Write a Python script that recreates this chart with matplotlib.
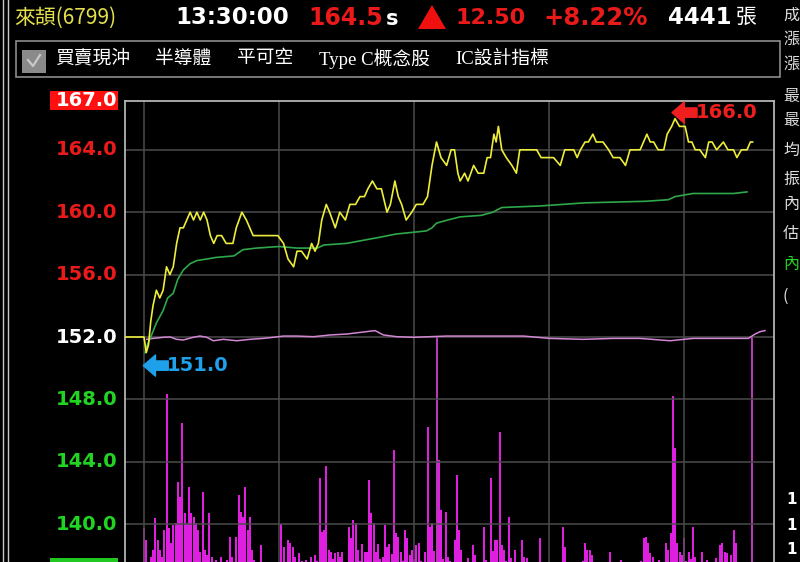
import matplotlib
matplotlib.use("Agg")
import matplotlib.pyplot as plt
import matplotlib.transforms as mtransforms
from matplotlib.patches import Rectangle, Polygon
from matplotlib.lines import Line2D
import numpy as np

# ---------------- data ----------------
stock_name = "來頡(6799)"
clock = "13:30:00"
last_price = "164.5"
change = "12.50"
change_pct = "+8.22%"
total_vol = "4441"
ref_price = 152.0
limit_up = 167.0
limit_down = 137.0
tabs = ["買賣現沖", "半導體", "平可空", "Type C概念股", "IC設計指標"]
side_chars = ["成", "漲", "漲", "最", "最", "均", "振", "內", "估", "內", "("]
y_ticks = [167.0, 164.0, 160.0, 156.0, 152.0, 148.0, 144.0, 140.0, 137.0]
grid_prices = [164.0, 160.0, 156.0, 152.0, 148.0, 144.0, 140.0]
grid_minutes = [0, 60, 120, 180, 240]

# minutes after 09:00 ; -9 = previous close reference
price_t = [-9, 0, 1, 2, 3, 4, 5.5, 7, 8.5, 10, 11.5, 13, 14.5, 16, 17.5, 19, 20.5, 22, 23.5,
           25, 26.5, 28, 29.5, 31, 32.5, 34.5, 36.5, 39.5, 41, 43.5, 45.5, 48.5, 53, 59.5,
           62, 64, 66.5, 68, 70, 72.5, 74.5, 76, 77.5, 79, 81, 82.5, 85, 87, 89.5, 91.5,
           94, 96, 98, 99.5, 101.5, 103.5, 105.5, 108, 109.5, 111.5, 113, 114.5, 116.5,
           119, 121, 124, 126, 128, 130, 132, 134.5, 136.5, 138, 139.5, 140.5, 142.5, 144,
           146.5, 148.5, 151, 152.5, 154, 155.5, 156.5, 157.5, 159, 161, 163.5, 165.5, 167,
           168.5, 171.5, 174.5, 176.5, 179, 182, 185, 187, 189.5, 191, 192.5, 194, 196,
           197.5, 199.5, 201, 204, 206.5, 208.5, 211.5, 214, 216, 218, 220.5, 222, 223.5,
           225, 226.5, 228.5, 231, 232.5, 234.5, 236, 238, 240.5, 242, 243.5, 245, 247,
           249.5, 251, 252.5, 254.5, 257.5, 259.5, 262, 263.5, 265.5, 268, 269.5, 270.5]
price_v = [152.0, 152.0, 151.0, 151.5, 153.0, 154.0, 155.0, 154.5, 155.0, 156.5, 156.0, 156.5,
           158.0, 159.0, 159.0, 159.5, 160.0, 159.5, 160.0, 159.5, 160.0, 159.5, 158.5, 158.0,
           158.5, 158.5, 158.0, 158.0, 159.0, 160.0, 159.5, 158.5, 158.5, 158.5, 158.0, 157.0,
           156.5, 157.5, 157.5, 157.0, 158.0, 157.5, 158.0, 159.5, 160.5, 160.0, 159.0, 160.0,
           159.5, 160.5, 160.5, 161.0, 161.0, 161.5, 162.0, 161.5, 161.5, 160.0, 160.5, 162.0,
           161.0, 160.5, 159.5, 160.0, 160.5, 160.5, 161.0, 163.0, 164.5, 163.5, 163.0, 164.0,
           164.0, 162.5, 162.0, 162.5, 162.0, 163.0, 162.5, 162.5, 163.5, 163.5, 165.0, 164.5,
           165.5, 164.0, 163.5, 163.0, 162.5, 164.0, 164.0, 164.0, 164.0, 163.5, 163.5, 163.5,
           163.0, 164.0, 164.0, 164.0, 163.5, 164.0, 164.5, 164.5, 165.0, 164.5, 164.5, 164.0,
           163.5, 163.5, 163.0, 164.0, 164.0, 164.0, 164.5, 165.0, 164.5, 164.5, 164.0, 164.0,
           165.0, 165.5, 166.0, 165.5, 165.5, 164.5, 164.5, 164.0, 164.0, 163.5, 164.5, 164.5,
           164.0, 164.5, 164.0, 164.0, 163.5, 164.0, 164.0, 164.5, 164.5]

avg_t = [0.5, 1.5, 3, 5.5, 8.5, 10.5, 13, 15, 17.5, 20.5, 23.5, 28, 32, 40, 41, 44, 50, 60, 68,
         77, 80, 90, 97.5, 105, 112, 125.5, 128, 130, 135, 140.5, 150, 155, 159, 176, 196,
         223, 233, 236, 244, 262, 268]
avg_v = [151.0, 151.5, 152.0, 152.9, 153.7, 154.5, 154.8, 155.7, 156.3, 156.7, 156.9, 157.0,
         157.1, 157.2, 157.3, 157.6, 157.7, 157.8, 157.7, 157.7, 157.9, 158.0, 158.2, 158.4,
         158.6, 158.8, 159.0, 159.3, 159.5, 159.7, 159.8, 160.0, 160.3, 160.4, 160.6, 160.7,
         160.8, 161.0, 161.2, 161.2, 161.3]

ind_t = [1.2, 4.1, 8.6, 11.6, 14.5, 17.5, 21.9, 24.9, 27.9, 30.8, 35.3, 41.2, 47.1, 53, 57.5,
         61.9, 67.9, 75.3, 82.7, 90.1, 97.5, 102.7, 106.4, 112.3, 119.7, 127.1, 134.5, 140.4,
         153.8, 168.6, 180.4, 195.3, 208.6, 220.4, 233.8, 244.1, 257.5, 268.6, 271.6, 273.8, 276]
ind_v = [151.85, 151.91, 151.98, 152.0, 151.85, 151.81, 151.98, 152.06, 151.98, 151.76, 151.85,
         151.76, 151.85, 151.91, 151.98, 152.06, 152.06, 152.02, 152.13, 152.19, 152.32, 152.41,
         152.13, 152.02, 151.98, 152.02, 152.06, 152.06, 152.06, 152.06, 151.91, 151.85, 151.91,
         151.91, 151.76, 151.91, 151.91, 151.91, 152.19, 152.34, 152.41]

# per-minute volume from 09:00 (index 0) to 13:30 (index 270)
volume = [43, 31, 6, 14, 21, 53, 31, 21, 14, 41,
          177, 43, 28, 46, 48, 89, 74, 148, 58, 48,
          84, 58, 54, 48, 41, 19, 79, 21, 16, 58,
          14, 6, 11, 8, 14, 6, 9, 11, 34, 14,
          8, 34, 76, 59, 54, 84, 41, 54, 21, 11,
          7, 5, 26, 6, 5, 7, 9, 5, 4, 6,
          8, 47, 24, 6, 31, 28, 24, 14, 8, 18,
          10, 6, 11, 8, 14, 8, 16, 10, 93, 39,
          41, 105, 21, 19, 12, 18, 19, 14, 19, 9,
          7, 44, 33, 51, 48, 21, 10, 27, 19, 19,
          91, 58, 48, 19, 27, 12, 14, 46, 24, 27,
          17, 121, 38, 34, 19, 10, 41, 33, 16, 21,
          12, 26, 28, 10, 8, 19, 144, 44, 48, 20,
          300, 111, 61, 12, 59, 14, 10, 8, 31, 96,
          41, 21, 8, 6, 13, 9, 26, 16, 7, 6,
          9, 44, 11, 8, 93, 20, 31, 31, 139, 26,
          21, 10, 54, 13, 8, 21, 9, 6, 31, 14,
          13, 7, 5, 6, 8, 5, 33, 7, 5, 4,
          6, 5, 7, 5, 6, 9, 44, 24, 6, 5,
          7, 4, 5, 6, 8, 10, 28, 21, 21, 16,
          7, 5, 6, 4, 5, 6, 8, 19, 6, 4,
          5, 6, 11, 5, 9, 4, 5, 6, 4, 5,
          8, 10, 33, 34, 28, 18, 14, 8, 6, 11,
          7, 9, 28, 21, 38, 175, 123, 28, 19, 16,
          33, 10, 19, 12, 44, 14, 7, 6, 19, 8,
          11, 6, 5, 7, 13, 9, 26, 28, 19, 18,
          9, 16, 41, 28, 6, 0, 0, 0, 0, 0,
          300]
vol_minute = np.arange(len(volume))

# ---------------- styling / layout ----------------
W, H = 800, 562
CJK = ["Noto Sans CJK TC", "DejaVu Sans"]
SERIF_CJK = ["Liberation Serif", "Noto Sans CJK TC", "DejaVu Sans"]
RED = "#ea1a1a"
GREEN = "#22d422"
YELLOW = "#eeee3a"

def fx(x):
    return x / W

def fy(y):
    return 1 - y / H

fig = plt.figure(figsize=(W / 100, H / 100), dpi=100, facecolor="black")

left_px, right_px, top_px = 124.5, 774.0, 100.7
x0_min = -8.67
px_per_min = 2.25
px_per_unit = 15.6
x1_min = x0_min + (right_px - left_px) / px_per_min
y_top = ref_price + (337 - top_px) / px_per_unit
y_bot = ref_price - (H - 337) / px_per_unit

# volume axes (behind)
vol_bottom_px = 337 + (ref_price - limit_down) * px_per_unit
axv = fig.add_axes([fx(left_px), fy(vol_bottom_px), fx(right_px - left_px),
                    (vol_bottom_px - 337) / H])
axv.set_zorder(1)
axv.set_facecolor("black")
axv.set_xlim(x0_min, x1_min)
axv.set_ylim(0, vol_bottom_px - 337)
vcols = ["#c43cc4" if v > 200 else "#ee22ee" for v in volume]
axv.vlines(vol_minute, 0, volume, colors=vcols, lw=1.35)
axv.axis("off")

# price axes
ax = fig.add_axes([fx(left_px), 0, fx(right_px - left_px), (H - top_px) / H])
ax.set_zorder(2)
ax.set_facecolor("none")
ax.set_xlim(x0_min, x1_min)
ax.set_ylim(y_bot, y_top)
for g in grid_prices:
    ax.axhline(g, color="#4b4b4b", lw=1.1, zorder=1)
for g in grid_minutes:
    ax.axvline(g, color="#4b4b4b", lw=1.1, zorder=1)
ax.set_xticks([])
ax.set_yticks([])
for s in ["left", "top", "right"]:
    ax.spines[s].set_color("#b4b4b4")
    ax.spines[s].set_linewidth(1.3)
ax.spines["bottom"].set_visible(False)

ax.plot(ind_t, ind_v, color="#d386d3", lw=1.1, zorder=3)
ax.plot(avg_t, avg_v, color="#2ea84a", lw=1.2, zorder=4)
ax.plot(price_t, price_v, color=YELLOW, lw=1.2, zorder=5)

# high / low markers
i_hi = int(np.argmax(price_v))
i_lo = int(np.argmin(price_v))
tr_hi = mtransforms.offset_copy(ax.transData, fig=fig, x=-3, y=6, units="dots")
tr_lo = mtransforms.offset_copy(ax.transData, fig=fig, x=-3, y=-13, units="dots")
for tr, idx, col in [(tr_hi, i_hi, "#f01e1e"), (tr_lo, i_lo, "#1ea0ea")]:
    ax.annotate("", xy=(price_t[idx], price_v[idx]), xycoords=tr,
                xytext=(25, 0), textcoords="offset pixels",
                arrowprops=dict(arrowstyle="simple,head_length=0.55,head_width=0.95,tail_width=0.42",
                                color=col, shrinkA=0, shrinkB=0, mutation_scale=16),
                zorder=6, annotation_clip=False)
    ax.annotate(f"{price_v[idx]:.1f}", xy=(price_t[idx], price_v[idx]), xycoords=tr,
                xytext=(24, 0), textcoords="offset pixels", ha="left", va="center",
                color=col, fontsize=14, fontweight="bold", family="DejaVu Sans",
                zorder=6, annotation_clip=False)

# left price labels
lab_tr = mtransforms.blended_transform_factory(fig.transFigure, ax.transData)
for v in y_ticks:
    if v == limit_up:
        fig.patches.append(Rectangle((fx(50), fy(110)), fx(68), 19 / H,
                                     transform=fig.transFigure, facecolor="#ff1010",
                                     edgecolor="none"))
        col = "white"
        yv = ref_price + (337 - 100.5) / px_per_unit
    elif v == limit_down:
        fig.patches.append(Rectangle((fx(50), fy(580)), fx(68), 22 / H,
                                     transform=fig.transFigure, facecolor="#22c822",
                                     edgecolor="none"))
        continue
    else:
        col = RED if v > ref_price else ("white" if v == ref_price else GREEN)
        yv = v
    fig.text(fx(117), yv, f"{v:.1f}", transform=lab_tr, ha="right", va="center",
             color=col, fontsize=14, fontweight="bold", family="DejaVu Sans")

# window borders
for xb in [2.5, 7.5]:
    fig.add_artist(Line2D([fx(xb), fx(xb)], [0, 1], transform=fig.transFigure,
                          color="#c8c8c8", lw=1.0))

# header
fig.text(fx(14), fy(18), stock_name, color="#e4e04c", fontsize=15, family=CJK,
         ha="left", va="center")
fig.text(fx(175), fy(18), clock, color="white", fontsize=16.5, fontweight="bold",
         family="DejaVu Sans", ha="left", va="center")
fig.text(fx(308), fy(18), last_price, color=RED, fontsize=17, fontweight="bold",
         family="DejaVu Sans", ha="left", va="center")
fig.text(fx(386), fy(19), "s", color="white", fontsize=15, fontweight="bold",
         family="DejaVu Sans", ha="left", va="center")
fig.patches.append(Polygon([(fx(418), fy(29)), (fx(446), fy(29)), (fx(432), fy(5))],
                           closed=True, transform=fig.transFigure, facecolor="#f01010",
                           edgecolor="none"))
fig.text(fx(455), fy(18), change, color=RED, fontsize=16, fontweight="bold",
         family="DejaVu Sans", ha="left", va="center")
fig.text(fx(543), fy(18), change_pct, color=RED, fontsize=17.5, fontweight="bold",
         family="DejaVu Sans", ha="left", va="center")
fig.text(fx(668), fy(18), total_vol, color="white", fontsize=16.5, fontweight="bold",
         family="DejaVu Sans", ha="left", va="center")
fig.text(fx(736), fy(17), "張", color="white", fontsize=15, family=CJK,
         ha="left", va="center")

# toolbar
fig.patches.append(Rectangle((fx(16), fy(77)), fx(764), 36 / H, transform=fig.transFigure,
                             facecolor="none", edgecolor="#8c8c8c", lw=1.2))
fig.patches.append(Rectangle((fx(22), fy(73)), fx(24), 23 / H, transform=fig.transFigure,
                             facecolor="#8a8a8a", edgecolor="none"))
fig.add_artist(Line2D([fx(28), fx(33), fx(40)], [fy(60), fy(66), fy(55)],
                      transform=fig.transFigure, color="#c9c9c9", lw=1.6))
tab_x = [55, 155, 237, 319, 455]
for t, xp in zip(tabs, tab_x):
    fig.text(fx(xp), fy(59), t, color="white", fontsize=13.5, family=SERIF_CJK,
             ha="left", va="center")

# right column (partially visible info panel)
side_y = [15, 39, 64, 97, 121, 150, 179, 205, 233, 265, 296]
for ch, yp in zip(side_chars, side_y):
    col = GREEN if (ch == "內" and yp > 250) else "#dedede"
    fig.text(fx(783), fy(yp), ch, color=col, fontsize=11.5, family=CJK,
             ha="left", va="center")
for yp in [500, 525, 550]:
    fig.text(fx(786), fy(yp), "1", color="white", fontsize=11, fontweight="bold",
             family="DejaVu Sans", ha="left", va="center")

fig.savefig("out.png", dpi=100, facecolor="black")
